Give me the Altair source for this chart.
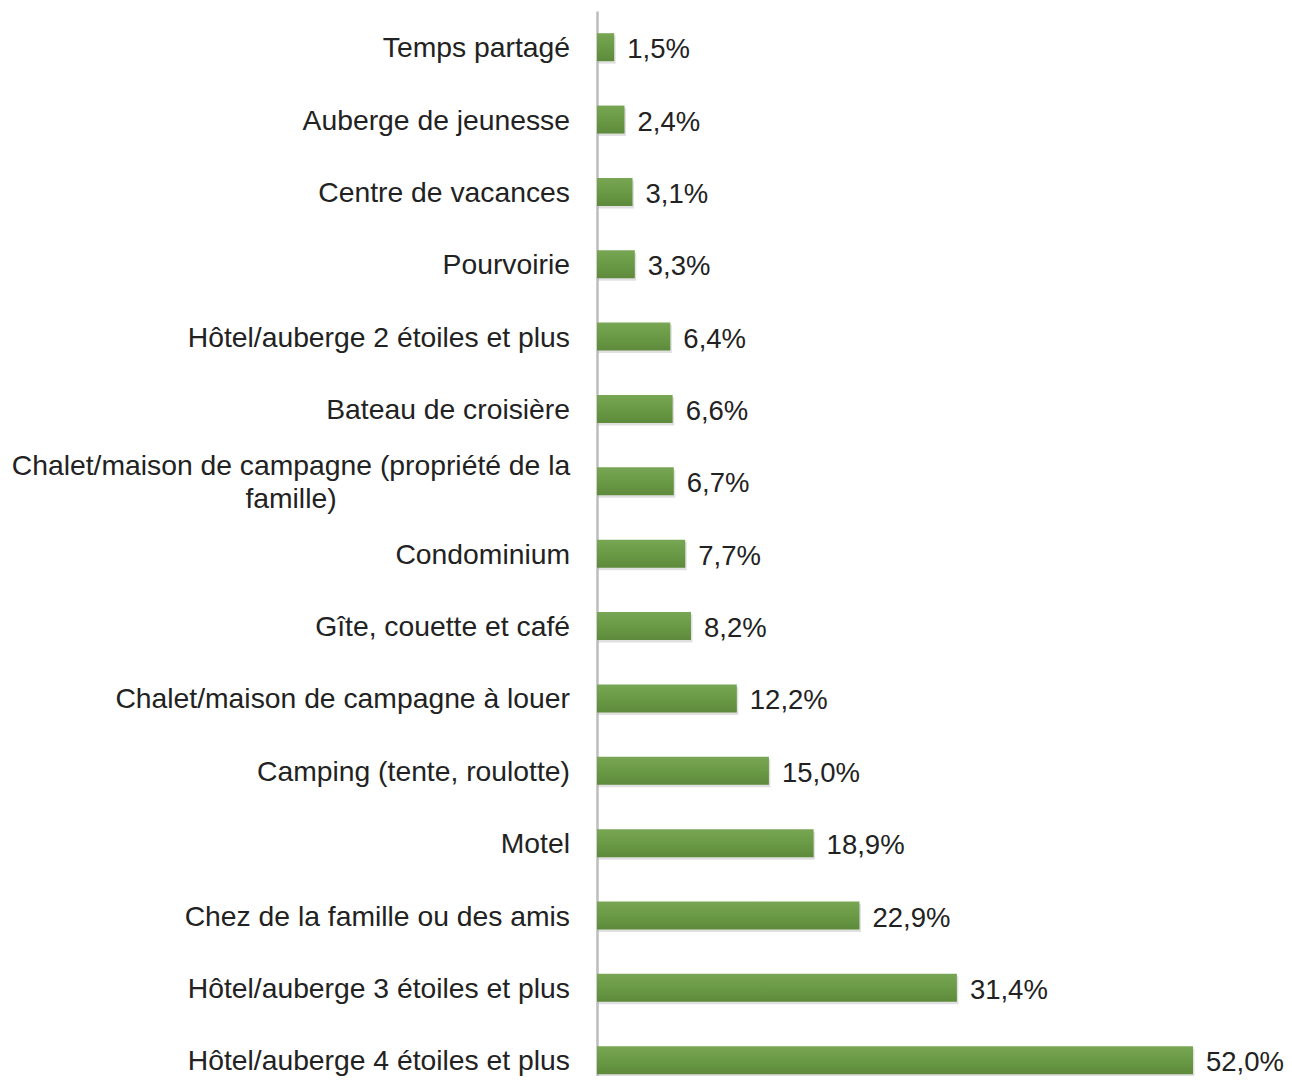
import altair as alt
import pandas as pd

categories = [
    "Temps partagé",
    "Auberge de jeunesse",
    "Centre de vacances",
    "Pourvoirie",
    "Hôtel/auberge 2 étoiles et plus",
    "Bateau de croisière",
    "Chalet/maison de campagne (propriété de la famille)",
    "Condominium",
    "Gîte, couette et café",
    "Chalet/maison de campagne à louer",
    "Camping (tente, roulotte)",
    "Motel",
    "Chez de la famille ou des amis",
    "Hôtel/auberge 3 étoiles et plus",
    "Hôtel/auberge 4 étoiles et plus",
]
values = [1.5, 2.4, 3.1, 3.3, 6.4, 6.6, 6.7, 7.7, 8.2, 12.2, 15.0, 18.9, 22.9, 31.4, 52.0]
display_labels = [
    "Temps partagé",
    "Auberge de jeunesse",
    "Centre de vacances",
    "Pourvoirie",
    "Hôtel/auberge 2 étoiles et plus",
    "Bateau de croisière",
    "Chalet/maison de campagne (propriété de la\nfamille)",
    "Condominium",
    "Gîte, couette et café",
    "Chalet/maison de campagne à louer",
    "Camping (tente, roulotte)",
    "Motel",
    "Chez de la famille ou des amis",
    "Hôtel/auberge 3 étoiles et plus",
    "Hôtel/auberge 4 étoiles et plus",
]

df = pd.DataFrame({
    "cat": categories,
    "value": values,
    "label": display_labels,
    "wrapped": ["\n" in s for s in display_labels],
})

FONT = "Liberation Sans"
FS = 28.3
FS_VAL = 27.5
STEP = 72.36

y_enc = alt.Y("cat:N", sort=categories,
              scale=alt.Scale(range=[0, STEP * len(categories)], paddingInner=0, paddingOuter=0),
              axis=alt.Axis(title=None, labels=False, ticks=False, grid=False,
                            domain=True, domainColor="#bdbdbd", domainWidth=2.5))
x_scale = alt.Scale(domain=[0, 52], range=[0, 596], nice=False, zero=True)

base = alt.Chart(df)

shadow = base.mark_bar(size=28, color="#000000", opacity=0.12, xOffset=1.5, yOffset=2.5).encode(
    x=alt.X("value:Q", scale=x_scale, axis=None),
    y=y_enc,
)

bars = base.mark_bar(
    size=28,
    color=alt.Gradient(
        gradient="linear",
        stops=[alt.GradientStop(color="#78a654", offset=0),
               alt.GradientStop(color="#6a9a46", offset=0.5),
               alt.GradientStop(color="#5d8a3b", offset=1)],
        x1=0, x2=0, y1=0, y2=1,
    ),
).encode(
    x=alt.X("value:Q", scale=x_scale, axis=None),
    y=y_enc,
)

values_text = base.transform_calculate(
    txt="replace(format(datum.value, '.1f'), '.', ',') + '%'"
).mark_text(align="left", baseline="middle", dx=13, dy=3, font=FONT, fontSize=FS_VAL, color="#222222").encode(
    x=alt.X("value:Q", scale=x_scale, axis=None),
    y=alt.Y("cat:N", sort=categories),
    text="txt:N",
)

cat_text = base.transform_filter("!datum.wrapped").mark_text(
    align="right", baseline="middle", dy=2, font=FONT, fontSize=FS, color="#222222"
).encode(
    x=alt.value(-27),
    y=alt.Y("cat:N", sort=categories),
    text="label:N",
)

cat_text_wrapped = base.transform_filter("datum.wrapped").mark_text(
    align="center", baseline="middle", dy=-14, lineBreak="\n", lineHeight=33,
    font=FONT, fontSize=FS, color="#222222"
).encode(
    x=alt.value(-306),
    y=alt.Y("cat:N", sort=categories),
    text="label:N",
)

chart = alt.layer(shadow, bars, values_text, cat_text, cat_text_wrapped).properties(
    width=596,
    height=1065,
    autosize=alt.AutoSizeParams(type="none"),
    padding={"left": 589, "top": 3, "right": 91, "bottom": 0},
).configure(background="white").configure_view(strokeWidth=0, stroke="transparent")

chart.save("out.html", embed_options={"renderer": "svg", "actions": False})
